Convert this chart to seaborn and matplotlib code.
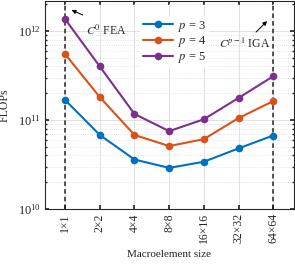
import numpy as np
import pandas as pd
import matplotlib
matplotlib.use("Agg")
import matplotlib.pyplot as plt
import seaborn as sns
from matplotlib.ticker import LogLocator, NullFormatter

sizes = ["1×1", "2×2", "4×4", "8×8", "16×16", "32×32", "64×64"]
flops_p3 = [1.68e11, 6.8e10, 3.6e10, 2.9e10, 3.4e10, 4.8e10, 6.7e10]
flops_p4 = [5.5e11, 1.81e11, 6.8e10, 5.1e10, 6.1e10, 1.05e11, 1.63e11]
flops_p5 = [1.36e12, 4.0e11, 1.17e11, 7.5e10, 1.02e11, 1.77e11, 3.1e11]
series_labels = ["$p$ = 3", "$p$ = 4", "$p$ = 5"]
colors = ["#0072BD", "#D95319", "#7E2F8E"]

sns.set_theme(style="white")
plt.rcParams["font.family"] = ["Liberation Serif", "DejaVu Serif"]
plt.rcParams["mathtext.fontset"] = "stix"

rows = []
for lab, vals in zip(series_labels, [flops_p3, flops_p4, flops_p5]):
    for i, (s, v) in enumerate(zip(sizes, vals)):
        rows.append({"idx": i, "size": s, "flops": v, "series": lab})
df = pd.DataFrame(rows)

fig = plt.figure(figsize=(2.95, 2.67), dpi=100)
ax = fig.add_axes([0.1525, 0.217, 0.8441, 0.781])

sns.lineplot(data=df, x="idx", y="flops", hue="series", palette=colors,
             marker="o", markersize=5.5, markeredgewidth=0, linewidth=1.5,
             ax=ax, zorder=3)
ax.set_yscale("log")
ax.set_ylim(1e10, 2.2e12)
ax.set_xlim(-0.58, 6.6)
ax.set_xticks(range(len(sizes)))
ax.set_xticklabels(sizes, rotation=90, fontsize=8.5)
ax.yaxis.set_major_locator(LogLocator(base=10))
ax.yaxis.set_minor_locator(LogLocator(base=10, subs=np.arange(2, 10)))
ax.yaxis.set_minor_formatter(NullFormatter())
ax.tick_params(axis="y", which="major", labelsize=9, direction="in", length=3, left=True, right=True, pad=3)
ax.tick_params(axis="y", which="minor", direction="in", length=1.5, left=True, right=True)
ax.tick_params(axis="x", which="major", direction="in", length=3, bottom=True, top=True, pad=3)
ax.grid(True, which="major", axis="both", color="#dcdcdc", linewidth=0.6, linestyle="-")
ax.grid(True, which="minor", axis="y", color="#dcdcdc", linewidth=0.6, linestyle=":")
for sp in ax.spines.values():
    sp.set_color("#262626")
    sp.set_linewidth(0.8)

ax.axvline(0, color="#262626", linestyle="--", linewidth=1.1, dashes=(3, 2), zorder=2)
ax.axvline(6, color="#262626", linestyle="--", linewidth=1.1, dashes=(3, 2), zorder=2)

ax.set_xlabel("Macroelement size", fontsize=8, labelpad=5)
ax.set_ylabel("FLOPs", fontsize=8.5, labelpad=5)

ax.annotate("", xy=(0.115, 1.77e12), xytext=(0.58, 1.47e12),
            arrowprops=dict(arrowstyle="-|>", color="black", lw=0.7, mutation_scale=6))
ax.text(0.6, 0.9e12, "$C^0$ FEA", fontsize=8.5, ha="left", va="baseline")
ax.annotate("", xy=(5.88, 1.36e12), xytext=(5.45, 9.25e11),
            arrowprops=dict(arrowstyle="-|>", color="black", lw=0.7, mutation_scale=6))
ax.text(5.17, 6.5e11, "$C^{p-1}$ IGA", fontsize=8.5, ha="center", va="baseline")

leg = ax.legend(loc="upper center", bbox_to_anchor=(0.52, 0.955), fontsize=9,
                frameon=True, framealpha=1, edgecolor="white", fancybox=False,
                handlelength=2.4, handletextpad=0.4, labelspacing=0.05,
                borderpad=0.2)
leg.get_frame().set_linewidth(0)

fig.savefig("out.png", dpi=100)
